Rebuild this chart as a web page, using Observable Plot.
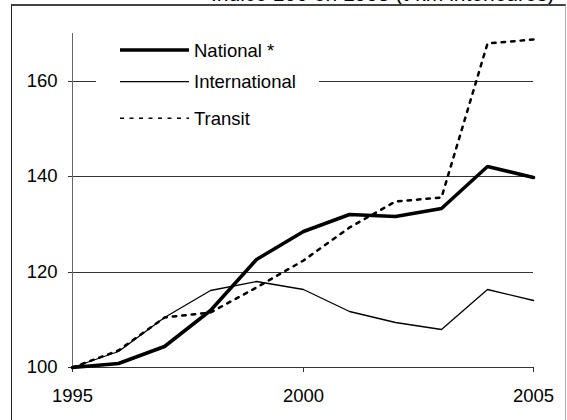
<!DOCTYPE html>
<html>
<head>
<meta charset="utf-8">
<script src="https://cdn.jsdelivr.net/npm/d3@7"></script>
<script src="https://cdn.jsdelivr.net/npm/@observablehq/plot@0.6"></script>
<style>
  html, body { margin: 0; padding: 0; background: #fff; width: 567px; height: 420px; overflow: hidden; position: relative; }
  #title { position: absolute; left: 211px; top: -17px; font: 21px "Liberation Sans", Arial, sans-serif; line-height: 21px; white-space: nowrap; color: #000; }
  #box { position: absolute; left: 11px; top: 4px; width: 553px; height: 520px; border-top: 2px solid #444; border-left: 1px solid #222; border-right: 1px solid #aaa; }
  #chart { position: absolute; left: 0; top: 0; }
  #legend { position: absolute; left: 0; top: 0; }
</style>
</head>
<body>
<div id="title">Indice 100 en 1995 (t-km intérieures)</div>
<div id="box"></div>
<div id="chart"></div>
<svg id="legend" width="567" height="420"></svg>
<script>
const years = [1995, 1996, 1997, 1998, 1999, 2000, 2001, 2002, 2003, 2004, 2005];
const national = [100, 100.8, 104.5, 111.9, 122.6, 128.5, 132.1, 131.7, 133.3, 142.1, 139.8];
const international = [100, 103.4, 110.5, 116.1, 118.0, 116.4, 111.7, 109.4, 108.0, 116.4, 114.0];
const transit = [100, 103.6, 110.5, 111.6, 116.7, 122.5, 129.3, 134.7, 135.7, 167.9, 168.7];
const seriesNames = ["National *", "International", "Transit"];
const xTicks = [1995, 2000, 2005];
const yTicks = [100, 120, 140, 160];
const gridValues = [120, 140, 160];

const styles = {
  "National *": {stroke: "#000", strokeWidth: 3.5, strokeDasharray: null},
  "International": {stroke: "#000", strokeWidth: 1.3, strokeDasharray: null},
  "Transit": {stroke: "#000", strokeWidth: 2.5, strokeDasharray: "3.5,6"}
};
const seriesValues = {"National *": national, "International": international, "Transit": transit};
const rows = seriesNames.map(name => years.map((y, i) => ({year: y, value: seriesValues[name][i], series: name})));

const font = '"Liberation Sans", Arial, sans-serif';

const chart = Plot.plot({
  width: 567,
  height: 420,
  marginLeft: 72,
  marginRight: 34,
  marginTop: 33,
  marginBottom: 53,
  style: {fontFamily: font, fontSize: "18.5px", color: "#000", background: "transparent", overflow: "visible"},
  x: {domain: [1995, 2005], round: true},
  y: {domain: [100, 170], round: true},
  marks: [
    Plot.ruleY(gridValues, {stroke: "#333", strokeWidth: 1}),
    Plot.ruleX([1995], {y1: 100, y2: 170, stroke: "#666", strokeWidth: 1}),
    Plot.ruleY([100], {stroke: "#333", strokeWidth: 1}),
    Plot.axisX({ticks: xTicks, tickFormat: d => String(d), tickSize: 5, tickPadding: 16, label: null, stroke: "#333"}),
    Plot.axisY({ticks: yTicks, tickSize: 4, tickPadding: 11, label: null, stroke: "#333"}),
    Plot.line(rows[1], {x: "year", y: "value", ...styles["International"], strokeLinejoin: "miter"}),
    Plot.line(rows[2], {x: "year", y: "value", ...styles["Transit"]}),
    Plot.line(rows[0], {x: "year", y: "value", ...styles["National *"], strokeLinejoin: "miter"})
  ]
});
document.getElementById("chart").appendChild(chart);

// Legend overlay
const legendRowsY = [50, 81.7, 118.3];
const legendStyles = {
  "National *": {w: 3.5, dash: null},
  "International": {w: 1.3, dash: null},
  "Transit": {w: 1.5, dash: "4,5.5"}
};
const lg = d3.select("#legend");
lg.append("rect").attr("x", 96).attr("y", 34).attr("width", 223).attr("height", 102).attr("fill", "#fff");
seriesNames.forEach((name, i) => {
  const y = legendRowsY[i];
  lg.append("line").attr("x1", 120).attr("x2", 189).attr("y1", y).attr("y2", y)
    .attr("stroke", "#000").attr("stroke-width", legendStyles[name].w)
    .attr("stroke-dasharray", legendStyles[name].dash);
  lg.append("text").attr("x", 194).attr("y", y).attr("dy", "0.36em")
    .attr("font-family", font).attr("font-size", "18.5px").attr("fill", "#000").text(name);
});
</script>
</body>
</html>
